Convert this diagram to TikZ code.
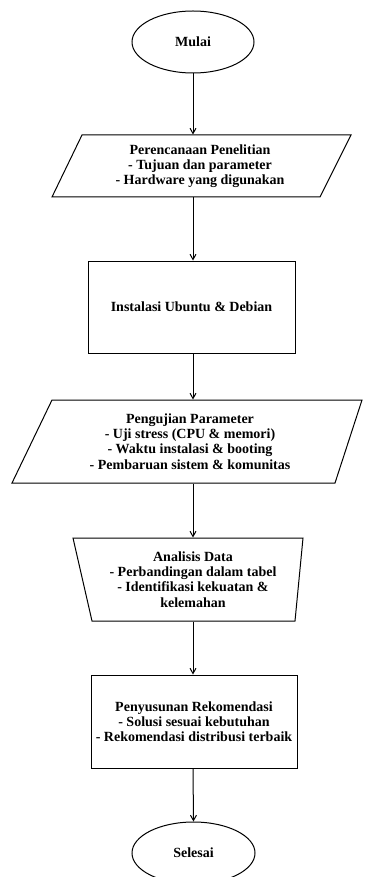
\documentclass[tikz,border=0pt]{standalone}
\usepackage{fontspec}
\setmainfont{Liberation Serif}
\usetikzlibrary{shapes.geometric,arrows.meta}

\newcommand{\flowfont}{\fontsize{10.5}{11.4}\selectfont\bfseries}

\tikzset{every picture/.style={line width=0.75pt}}
\tikzset{
  terminal/.style={draw, ellipse, minimum width=91.5pt, minimum height=46.5pt, inner sep=0pt, font=\flowfont},
  proses/.style={draw, rectangle, align=center, inner sep=0pt, font=\flowfont},
  isi/.style={align=center, inner sep=0pt, font=\flowfont},
  panah/.style={-{Straight Barb[length=4pt,width=4.5pt]}}
}

\begin{document}
\begin{tikzpicture}[x=0.75pt,y=0.75pt,yscale=-1,xscale=1]
	\useasboundingbox (0,0) rectangle (365,877);

	% Mulai
	\node[terminal] (mulai) at (193,42) {Mulai};

	% Perencanaan Penelitian
	\draw (82,135) -- (351,135) -- (320,197) -- (52,197) -- cycle ;
	\node[isi, minimum height=46.5pt] (rencana) at (200,166) {Perencanaan Penelitian\\- Tujuan dan parameter\\- Hardware yang digunakan};

	% Instalasi
	\node[proses, minimum width=155.25pt, minimum height=69pt] (instal) at (191.5,307) {Instalasi Ubuntu \& Debian};

	% Pengujian Parameter
	\draw (52,400) -- (362,400) -- (335,483) -- (12,483) -- cycle ;
	\node[isi, minimum height=62.25pt] (uji) at (190,441.5) {Pengujian Parameter\\- Uji stress (CPU \& memori)\\- Waktu instalasi \& booting\\- Pembaruan sistem \& komunitas};

	% Analisis Data
	\draw (73,538) -- (303,538) -- (295,621) -- (92,621) -- cycle ;
	\node[isi, minimum height=62.25pt] (analisis) at (193,579.5) {Analisis Data\\- Perbandingan dalam tabel\\- Identifikasi kekuatan \&\\kelemahan};

	% Penyusunan Rekomendasi
	\node[proses, minimum width=154.5pt, minimum height=69.75pt] (rekom) at (194,721.5) {Penyusunan Rekomendasi\\- Solusi sesuai kebutuhan\\- Rekomendasi distribusi terbaik};

	% Selesai
	\node[terminal, minimum width=92.25pt] (selesai) at (193.5,853) {Selesai};

	% Arrows
	\draw[panah] (mulai.south) -- (mulai.south |- rencana.north) ;
	\draw[panah] (mulai.south |- rencana.south) -- (mulai.south |- instal.north) ;
	\draw[panah] (mulai.south |- instal.south) -- (mulai.south |- uji.north) ;
	\draw[panah] (mulai.south |- uji.south) -- (mulai.south |- analisis.north) ;
	\draw[panah] (mulai.south |- analisis.south) -- (mulai.south |- rekom.north) ;
	\draw[panah] (mulai.south |- rekom.south) -- (selesai.north) ;

\end{tikzpicture}
\end{document}
